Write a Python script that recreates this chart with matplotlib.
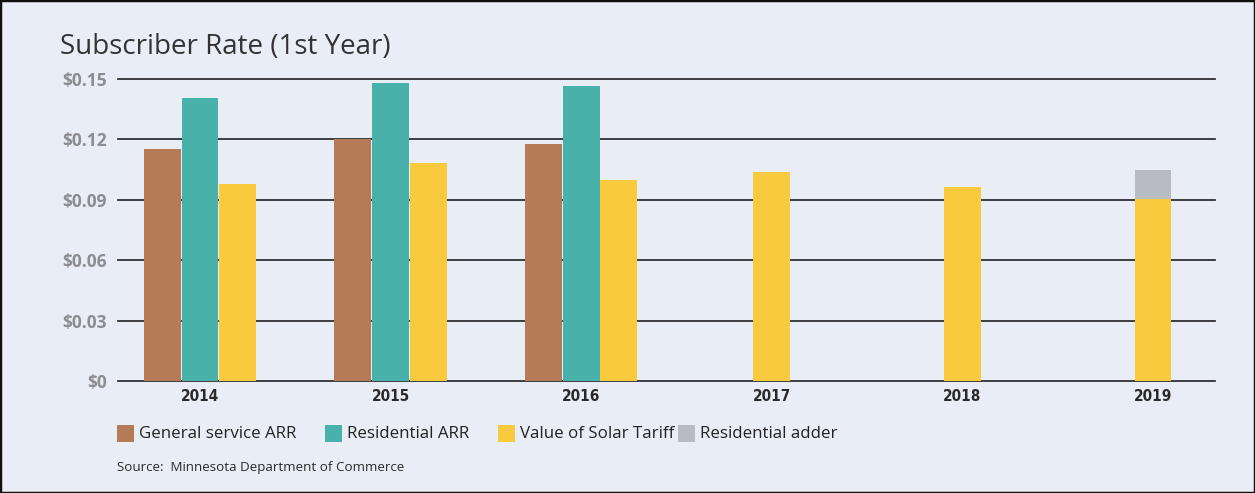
import numpy as np
import matplotlib.pyplot as plt
from matplotlib.patches import Rectangle

# data ($ per kWh)
years = ['2014', '2015', '2016', '2017', '2018', '2019']
general_arr = [0.1152, 0.1200, 0.1177, np.nan, np.nan, np.nan]
residential_arr = [0.1406, 0.1480, 0.1465, np.nan, np.nan, np.nan]
vos_tariff = [0.0978, 0.1083, 0.0998, 0.1038, 0.0966, 0.0905]
res_adder = [0, 0, 0, 0, 0, 0.0145]
yticks = [0, 0.03, 0.06, 0.09, 0.12, 0.15]
ytick_labels = ['$0', '$0.03', '$0.06', '$0.09', '$0.12', '$0.15']

c_brown = '#b57b56'
c_teal = '#47b1aa'
c_yellow = '#f9ca3d'
c_gray = '#b8bbc1'
bg = '#e9edf5'
grid_c = '#2e3034'

W, H = 1255, 493
fig = plt.figure(figsize=(W / 100, H / 100), dpi=100, facecolor=bg)
fig.add_artist(Rectangle((0, 0), 1, 1, transform=fig.transFigure, fill=False,
                         edgecolor='#111111', linewidth=2.5))

left, right, top, bottom = 118, 1215, 79, 381
ax = fig.add_axes([left / W, (H - bottom) / H, (right - left) / W, (bottom - top) / H])
ax.set_facecolor(bg)
for s in ax.spines.values():
    s.set_visible(False)

x = np.arange(len(years))
w = 0.194
step = 0.198
has_arr = ~np.isnan(np.array(general_arr))
vos_off = np.where(has_arr, step, 0.0)

ax.bar(x - step, general_arr, w, color=c_brown, zorder=3)
ax.bar(x, residential_arr, w, color=c_teal, zorder=3)
ax.bar(x + vos_off, vos_tariff, w, color=c_yellow, zorder=3)
ax.bar(x + vos_off, res_adder, w, bottom=vos_tariff, color=c_gray, zorder=3)

for yv in yticks:
    ax.axhline(yv, color=grid_c, linewidth=1.3, zorder=1, clip_on=False)

ax.set_xlim((left - 200) / 190.6, (right - 200) / 190.6)
ax.set_ylim(0, 0.15)
ax.set_yticks(yticks)
ax.set_yticklabels(ytick_labels, fontfamily='Open Sans', fontweight='bold',
                   fontsize=12.5, color='#8b8d90')
ax.tick_params(axis='y', length=0, pad=8)
ax.set_xticks(x)
ax.set_xticklabels(years, fontfamily='DejaVu Sans', fontstretch='condensed',
                   fontweight='bold', fontsize=11, color='#2a2a2a')
ax.tick_params(axis='x', length=0, pad=6)

fig.text(60 / W, 1 - 47 / H, 'Subscriber Rate (1st Year)', fontfamily='Open Sans',
         fontsize=20, color='#333333', va='center', ha='left')

# legend
legend_items = [('General service ARR', c_brown, 117),
                ('Residential ARR', c_teal, 325),
                ('Value of Solar Tariff', c_yellow, 498),
                ('Residential adder', c_gray, 678)]
for label, col, px in legend_items:
    fig.add_artist(Rectangle((px / W, 1 - 442 / H), 17 / W, 17 / H,
                             transform=fig.transFigure, facecolor=col, edgecolor='none'))
    fig.text((px + 22) / W, 1 - 434 / H, label, fontfamily='Open Sans', fontsize=12.2,
             color='#222222', va='center', ha='left')

fig.text(117 / W, 1 - 468 / H, 'Source:  Minnesota Department of Commerce',
         fontfamily='Open Sans', fontsize=9.6, color='#2a2a2a', va='center', ha='left')

fig.savefig('out.png', dpi=100, facecolor=bg)
